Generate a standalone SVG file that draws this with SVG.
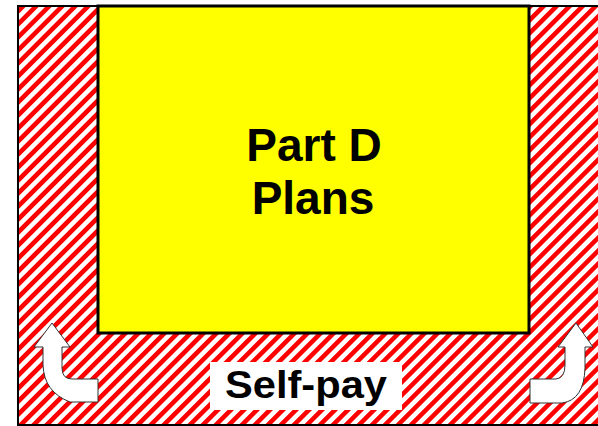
<svg xmlns="http://www.w3.org/2000/svg" width="598" height="426" viewBox="0 0 598 426">
<defs>
<pattern id="stripes" patternUnits="userSpaceOnUse" width="9.2" height="9.2" patternTransform="rotate(-45)">
<rect x="0" y="0" width="9.2" height="9.2" fill="#ffffff"/>
<rect x="0" y="0" width="9.2" height="4.6" fill="#ff0000"/>
</pattern>
<style>
.lbl{font-family:"Liberation Sans",Arial,sans-serif;font-weight:bold;fill:#000;text-anchor:middle}
.arrow{fill:#ffffff;stroke:#333333;stroke-width:1}
</style>
</defs>
<rect width="598" height="426" fill="#ffffff"/>
<g id="selfpay-area">
<rect x="18" y="6" width="600" height="419" fill="url(#stripes)" stroke="#000" stroke-width="2"/>
</g>
<g id="partd">
<rect x="98" y="6" width="431" height="327" fill="#ffff00" stroke="#000" stroke-width="3"/>
<text class="lbl" x="314" y="161" font-size="46">Part D</text>
<text class="lbl" x="313" y="214" font-size="46">Plans</text>
</g>
<g id="selfpay-label">
<rect x="210" y="362" width="192" height="48" fill="#ffffff"/>
<text class="lbl" x="306" y="398" font-size="38" textLength="162" lengthAdjust="spacingAndGlyphs">Self-pay</text>
</g>
<g id="connectors">
<path class="arrow" d="M52,323 L70,347 L62,347 L62,368 Q62,379 72,379 L98,379 L98,402 L70,402 Q44,392 43,365 L43,347 L34,347 Z"/>
<path class="arrow" d="M576,323 L593,347 L585,347 L585,368 Q584,400 562,403 L530,403 L530,379 L556,379 Q565,378 565,365 L565,347 L558,347 Z"/>
</g>
</svg>
